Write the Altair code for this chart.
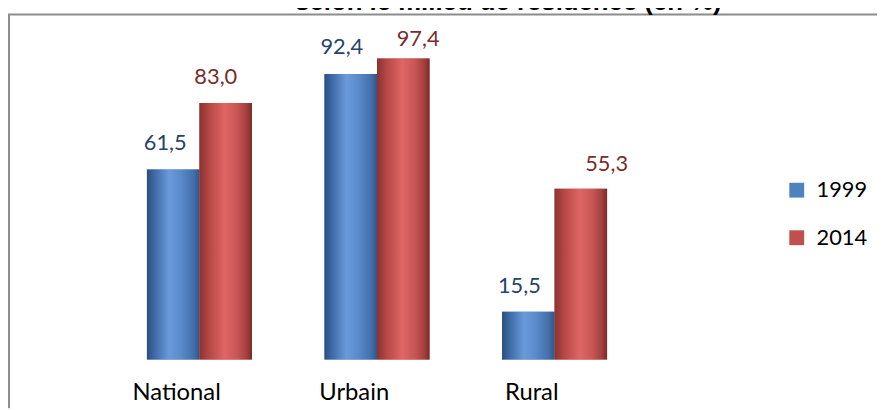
import altair as alt
import pandas as pd

# ---- data ----
categories = ["National", "Urbain", "Rural"]
years = ["1999", "2014"]
values_1999 = [61.5, 92.4, 15.5]
values_2014 = [83.0, 97.4, 55.3]
title_text = "selon le milieu de résidence (en %)"

rows = []
for c, v1, v2 in zip(categories, values_1999, values_2014):
    rows.append({"cat": c, "year": "1999", "value": v1})
    rows.append({"cat": c, "year": "2014", "value": v2})
df = pd.DataFrame(rows)
df["label"] = df["value"].map(lambda v: f"{v:.1f}".replace(".", ","))

# ---- style ----
FONT = "Lato"
base_colors = ["#4F81BD", "#C0504D"]
label_colors = {"1999": "#26446B", "2014": "#772D2B"}
label_dx = {("National", "1999"): -8, ("Urbain", "1999"): -9, ("Rural", "1999"): -9,
            ("National", "2014"): -10, ("Urbain", "2014"): 15, ("Rural", "2014"): 26}
label_gap = {("National", "1999"): 20, ("Urbain", "1999"): 20, ("Rural", "1999"): 19,
             ("National", "2014"): 19, ("Urbain", "2014"): 13, ("Rural", "2014"): 18}

blue_grad = alt.LinearGradient(
    gradient="linear", x1=0, x2=1, y1=0, y2=0,
    stops=[
        alt.GradientStop(offset=0.0, color="#2C4E7E"),
        alt.GradientStop(offset=0.15, color="#3F6BA7"),
        alt.GradientStop(offset=0.42, color="#6A9ADA"),
        alt.GradientStop(offset=0.65, color="#5A8ACB"),
        alt.GradientStop(offset=0.88, color="#4470AB"),
        alt.GradientStop(offset=1.0, color="#31578A"),
    ],
)
red_grad = alt.LinearGradient(
    gradient="linear", x1=0, x2=1, y1=0, y2=0,
    stops=[
        alt.GradientStop(offset=0.0, color="#8A3331"),
        alt.GradientStop(offset=0.18, color="#B44745"),
        alt.GradientStop(offset=0.48, color="#DF6664"),
        alt.GradientStop(offset=0.72, color="#C85654"),
        alt.GradientStop(offset=0.9, color="#A2403E"),
        alt.GradientStop(offset=1.0, color="#7A2B29"),
    ],
)

x_enc = alt.X(
    "cat:N", sort=categories,
    scale=alt.Scale(paddingInner=0.4085, paddingOuter=0.20425),
    axis=None,
)
xo_enc = alt.XOffset("year:N", sort=years, scale=alt.Scale(paddingInner=0, paddingOuter=0))
y_enc = alt.Y("value:Q", scale=alt.Scale(domain=[0, 100], nice=False), axis=None)

base = alt.Chart(df)

bars = base.mark_bar().encode(
    x=x_enc, xOffset=xo_enc, y=y_enc,
    color=alt.Color(
        "year:N", sort=years,
        scale=alt.Scale(domain=years, range=base_colors),
        legend=alt.Legend(title=None, orient="none", legendX=681.4, legendY=130,
                          symbolType="square", symbolSize=225, symbolStrokeWidth=0,
                          symbolOpacity=1, labelFont=FONT, labelFontSize=22,
                          labelColor="#000000", labelOffset=9, rowPadding=26, padding=0),
    ),
)

grad_blue = base.mark_bar(fill=blue_grad).encode(
    x=x_enc, xOffset=xo_enc, y=y_enc
).transform_filter(alt.datum.year == "1999")
grad_red = base.mark_bar(fill=red_grad).encode(
    x=x_enc, xOffset=xo_enc, y=y_enc
).transform_filter(alt.datum.year == "2014")

# category labels (axis-like, shifted left as in the reference)
cat_labels = base.mark_text(
    font=FONT, fontSize=24, baseline="alphabetic", align="center", dx=-23, color="#000000"
).encode(
    x=x_enc, y=alt.value(353), text="cat:N"
).transform_filter(alt.datum.year == "1999")

layers = [bars, grad_blue, grad_red, cat_labels]

for c in categories:
    for yr in years:
        t = base.mark_text(
            font=FONT, fontSize=22, baseline="alphabetic", align="center",
            dx=label_dx[(c, yr)], dy=-label_gap[(c, yr)], color=label_colors[yr],
        ).encode(
            x=x_enc, xOffset=xo_enc, y=y_enc, text="label:N"
        ).transform_filter((alt.datum.cat == c) & (alt.datum.year == yr))
        layers.append(t)

one = alt.Chart(pd.DataFrame({"k": [0]}))
border_left = one.mark_rule(color="#8C8C8C", strokeWidth=2).encode(
    x=alt.value(-102.6), y=alt.value(-36.3), y2=alt.value(361)
)
border_top = one.mark_rule(color="#8C8C8C", strokeWidth=2).encode(
    y=alt.value(-36.3), x=alt.value(-103.6), x2=alt.value(773.4)
)
title = one.mark_text(
    text=title_text, font="Liberation Sans", fontWeight="bold", fontSize=26,
    align="center", baseline="alphabetic", color="#000000",
).encode(x=alt.value(401.4), y=alt.value(-41))

layers += [border_left, border_top, title]

chart = alt.layer(*layers).properties(
    width=537.6, height=312,
    autosize=alt.AutoSizeParams(type="none"),
    padding={"left": 103.6, "top": 41, "right": 235.8, "bottom": 49},
    background="white",
).configure_view(stroke=None)

chart.save("out.html", embed_options={"renderer": "svg", "actions": False})
